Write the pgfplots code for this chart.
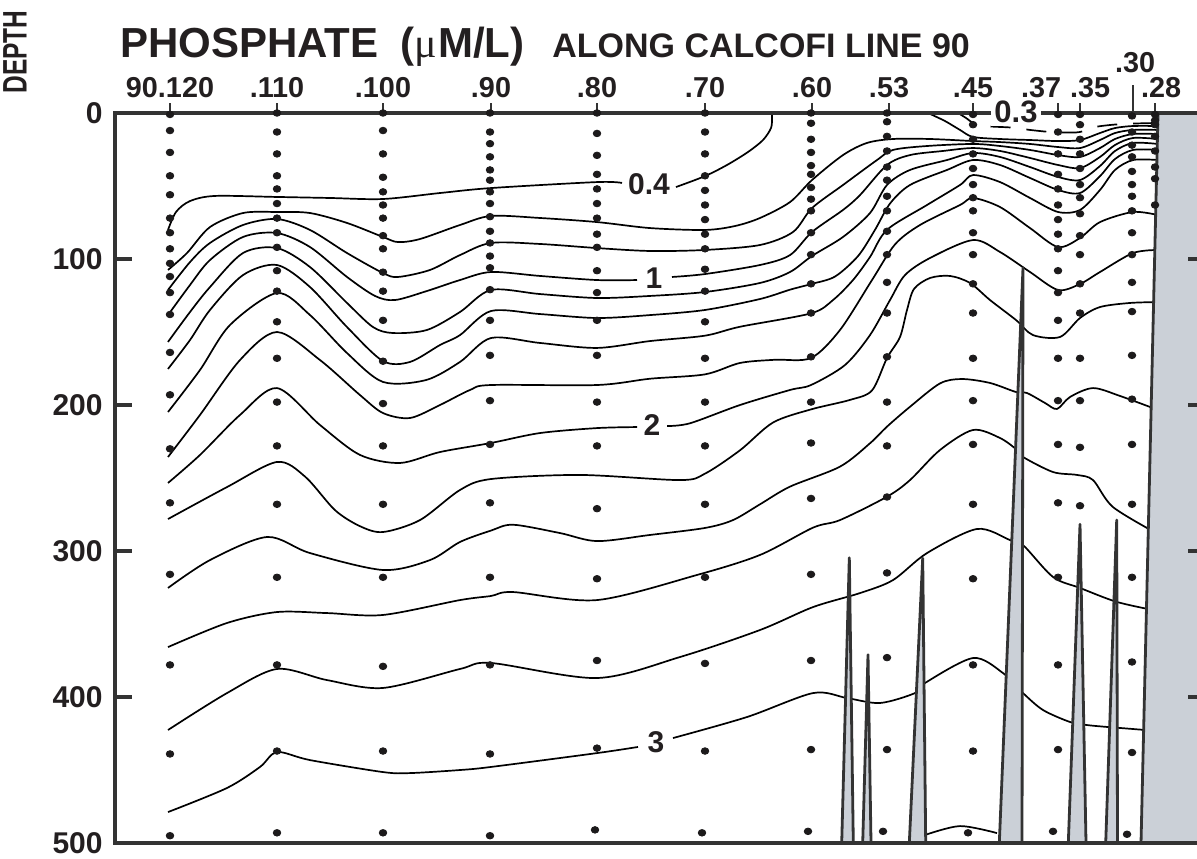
\documentclass[border=0pt]{standalone}
\usepackage{fontspec}
\setmainfont{Liberation Sans}
\newfontfamily\serifmu{Liberation Serif}
\usepackage{pgfplots}
\pgfplotsset{compat=1.18}
\definecolor{frame}{RGB}{51,51,51}
\definecolor{ink}{RGB}{35,31,32}
\definecolor{seafloor}{RGB}{203,208,215}
\definecolor{dotc}{RGB}{28,26,27}
\pgfplotsset{
  cl/.style={black, line width=0.85pt, smooth, no markers},
  dots/.style={only marks, mark=*, mark size=1.65pt, color=dotc, mark options={xscale=1.15, draw=dotc, fill=dotc}},
  spike/.style={fill=seafloor, draw=frame, line width=1.4pt, line join=round, no markers},
}
\begin{document}
\begin{tikzpicture}
\useasboundingbox (0pt,0pt) rectangle (598.5pt,429pt);
\begin{axis}[
  at={(57.5pt,7.5pt)}, anchor=south west,
  scale only axis, width=545pt, height=365pt,
  xmin=115, xmax=1205, ymin=0, ymax=500, y dir=reverse,
  clip=false, axis on top,
  axis line style={frame, line width=2pt},
  tick align=inside, major tick length=8.5pt,
  ytick={0,100,200,300,400,500},
  yticklabels={0,100,200,300,400,500},
  ytick pos=both, yticklabel pos=left,
  ytick style={frame, line width=2pt},
  yticklabel style={font=\fontsize{15}{15}\selectfont\bfseries, text=ink, anchor=east, inner sep=0pt, xshift=-6pt},
  xtick={170,277,383,491,597,705,812,889,973,1058,1080,1133,1155},
  xticklabels={90.120,.110,.100,.90,.80,.70,.60,.53,.45,{\makebox[0pt]{\hspace*{-17pt}.37}},{\makebox[0pt]{\hspace*{10pt}.35}},{\makebox[0pt]{\hspace*{2pt}\raisebox{12.5pt}{.30}}},{\makebox[0pt]{\hspace*{6pt}.28}}},
  xtick pos=right, xticklabel pos=right,
  xtick style={draw=none},
  xticklabel style={font=\fontsize{14.4}{14.4}\selectfont\bfseries, text=ink, anchor=base, inner sep=0pt, yshift=8pt},
]
% ---------------- contours ----------------
% 0.3 (dashed)
\addplot[cl, dash pattern=on 10pt off 8pt] coordinates {(958,0)(966,3.4)(975,7.5)(990,9.2)(1010,9.9)(1030,11.6)(1050,13.0)(1065,13.4)(1080,13.0)(1095,9.6)(1115,7.9)(1135,7.2)(1158,6.8)};
% 0.4
\addplot[cl] coordinates {(168,80.1)(176,67.8)(190,60.3)(215,56.8)(277,57.5)(330,58.2)(383,58.9)(440,54.8)(491,51.4)(597,47.3)(622,47.9)};
\addplot[cl] coordinates {(676,50.7)(705,43.2)(727,35.6)(748,26.7)(763,18.5)(771,10.3)(772,3.4)(772,0)};
\addplot[cl] coordinates {(928,0)(945,5.5)(960,11.6)(973,16.4)(1000,17.8)(1030,18.5)(1058,19.2)(1080,18.5)(1100,13.7)(1115,10.3)(1133,8.9)(1158,8.9)};
% 0.6
\addplot[cl] coordinates {(168,107.5)(187,95.9)(210,78.1)(243,68.5)(277,67.8)(310,68.5)(347,75.3)(383,84.9)(398,88.4)(420,86.3)(460,76.7)(491,70.5)(540,71.9)(597,74.7)(650,78.8)(705,80.1)(735,77.4)(760,71.9)(790,61.0)(812,45.9)(843,28.8)(867,20.5)(893,17.8)(930,17.8)(973,19.2)(1000,19.9)(1030,21.2)(1058,23.3)(1080,24.0)(1100,18.5)(1115,13.7)(1133,11.6)(1158,11.6)};
% 0.8
\addplot[cl] coordinates {(168,121.2)(190,102.1)(210,89.0)(243,76.7)(277,72.6)(310,80.1)(347,95.9)(383,109.6)(398,112.3)(430,107.5)(460,97.3)(491,89.0)(540,89.7)(597,92.5)(650,94.5)(705,93.8)(760,90.4)(793,81.5)(812,65.1)(843,49.3)(877,32.2)(893,25.3)(927,22.6)(973,21.2)(1000,22.6)(1030,25.3)(1058,28.8)(1080,30.1)(1100,24.0)(1115,17.8)(1133,14.4)(1158,14.4)};
% 1.0
\addplot[cl] coordinates {(168,138.4)(190,117.8)(210,100.7)(243,84.9)(277,82.2)(310,91.8)(347,112.3)(375,125.3)(395,128.1)(427,121.9)(460,114.4)(491,108.9)(540,111.6)(597,114.4)(637,114.4)};
\addplot[cl] coordinates {(672,112.3)(705,110.3)(760,104.1)(790,97.3)(812,81.5)(843,66.4)(860,56.2)(887,35.6)(910,28.8)(943,26.0)(973,24.0)(1000,26.0)(1030,30.8)(1058,35.6)(1080,37.7)(1100,30.1)(1115,21.9)(1133,17.1)(1158,17.8)};
% 1.2
\addplot[cl] coordinates {(168,156.8)(190,136.3)(210,119.2)(243,95.9)(277,92.5)(310,105.5)(347,130.1)(373,146.6)(393,150.7)(427,148.6)(460,136.3)(491,121.2)(540,124.0)(597,126.7)(650,125.3)(705,122.6)(760,116.4)(790,108.9)(812,97.9)(843,84.9)(870,68.5)(887,49.3)(910,39.0)(947,32.2)(973,27.4)(1000,30.1)(1030,37.0)(1058,43.8)(1080,45.9)(1100,36.3)(1115,26.0)(1133,20.5)(1158,21.2)};
% 1.4
\addplot[cl] coordinates {(168,175.3)(190,155.5)(210,134.9)(243,111.0)(277,104.1)(310,119.2)(347,146.6)(383,169.9)(410,170.5)(440,158.9)(460,152.1)(491,135.6)(540,137.7)(597,140.4)(650,138.4)(705,134.9)(760,127.4)(790,121.0)(812,117.0)(835,112.0)(858,98.0)(875,80.0)(890,62.0)(910,49.3)(947,39.0)(973,32.2)(1000,35.6)(1030,44.5)(1058,52.7)(1080,54.8)(1100,43.2)(1115,31.5)(1133,25.3)(1158,25.3)};
% 1.6
\addplot[cl] coordinates {(168,204.8)(200,176.0)(230,145.2)(277,123.3)(310,138.4)(347,164.4)(383,184.2)(426,182.9)(460,170.5)(491,154.1)(540,157.5)(597,160.9)(650,156.2)(705,152.5)(740,146.4)(811,137.2)(833,128.1)(853,114.4)(870,98.6)(887,80.0)(927,63.0)(960,49.3)(973,42.5)(1000,47.3)(1030,58.2)(1058,67.8)(1080,66.4)(1100,52.7)(1115,39.0)(1133,32.2)(1158,32.2)};
% 1.8
\addplot[cl] coordinates {(168,235.6)(200,206.8)(240,169.2)(277,150.0)(320,169.2)(360,193.2)(383,205.5)(410,208.9)(440,200.0)(470,189.7)(491,186.3)(597,186.3)(650,182.0)(705,179.0)(740,171.2)(775,169.0)(811,167.8)(840,148.6)(872,114.4)(895,90.0)(920,76.7)(960,63.0)(973,58.2)(1000,64.4)(1030,78.8)(1058,91.8)(1080,85.6)(1100,74.7)(1133,67.8)(1158,69.9)};
% 2.0
\addplot[cl] coordinates {(168,253.4)(200,234.2)(240,206.8)(277,188.4)(320,213.7)(360,234.2)(400,239.7)(440,232.2)(491,226.0)(540,219.2)(597,215.8)(637,215.1)};
\addplot[cl] coordinates {(667,214.4)(690,212.5)(740,200.0)(790,189.7)(811,186.3)(845,172.6)(870,152.1)(890,128.1)(905,111.0)(930,99.3)(973,87.0)(1000,95.2)(1030,108.9)(1058,121.2)(1080,117.1)(1100,108.9)(1133,95.9)(1158,93.8)};
% 2.2
\addplot[cl] coordinates {(168,278.1)(227,256.2)(277,239.0)(305,249.0)(335,272.0)(360,283.0)(383,287.0)(420,278.8)(460,258.2)(491,250.7)(580,247.9)(680,251.4)(705,247.0)(740,231.0)(773,212.0)(811,203.0)(850,196.5)(872,190.0)(887,167.8)(900,153.4)(907,134.9)(914,120.5)(930,113.0)(950,111.6)(970,116.4)(990,128.1)(1016,141.8)(1033,152.1)(1060,153.4)(1080,140.4)(1100,132.9)(1130,130.1)(1158,129.5)};
% 2.4
\addplot[cl] coordinates {(168,325.3)(210,306.2)(267,290.4)(310,301.4)(383,313.0)(430,306.2)(460,293.8)(491,286.0)(513,282.0)(560,287.7)(597,293.2)(650,289.0)(705,284.2)(733,278.8)(760,268.0)(790,255.9)(840,242.2)(870,226.2)(887,214.8)(910,201.2)(940,185.2)(962,182.2)(990,184.9)(1016,191.1)(1027,191.8)(1045,198.6)(1057,202.7)(1070,194.5)(1093,188.4)(1120,193.8)(1158,203.4)};
% 2.6
\addplot[cl] coordinates {(168,365.8)(227,349.3)(277,341.8)(327,342.5)(383,343.8)(460,333.6)(491,330.8)(513,328.1)(597,333.6)(697,316.4)(760,302.7)(813,284.0)(840,278.8)(887,262.8)(910,251.4)(940,230.8)(973,217.1)(1000,222.6)(1017,230.8)(1023,235.6)(1053,245.9)(1077,247.9)(1093,251.4)(1113,269.9)(1158,288.4)};
% 2.8
\addplot[cl] coordinates {(168,422.6)(227,397.3)(277,380.8)(327,388.4)(383,393.8)(460,380.8)(491,376.7)(597,387.0)(680,372.6)(760,354.1)(813,338.4)(860,328.8)(893,319.9)(927,301.4)(977,284.9)(1010,292.5)(1023,295.9)(1053,317.8)(1080,325.3)(1117,334.9)(1158,341.1)};
% 3.0
\addplot[cl] coordinates {(168,478.8)(227,462.3)(260,447.9)(277,437.7)(310,443.2)(383,451.4)(410,452.1)(460,450.0)(491,447.9)(597,438.4)(638,434.2)};
\addplot[cl] coordinates {(673,428.1)(747,413.7)(813,397.3)(847,400.7)(880,404.1)(915,397.3)(925,390.4)(973,373.3)(1003,383.6)(1023,397.3)(1043,408.9)(1070,417.1)(1087,419.2)(1107,420.5)(1120,421.2)(1158,423.3)};
% 3.2
\addplot[cl] coordinates {(925,494.5)(960,488.4)(997,493.2)};
% ---------------- bottom topography ----------------
\addplot[spike] coordinates {(841.7,500)(849.3,304.6)(853.3,500)} -- cycle;
\addplot[spike] coordinates {(862.7,500)(868,371)(871,500)} -- cycle;
\addplot[spike] coordinates {(909.3,500)(922.7,305)(925.7,500)} -- cycle;
\addplot[spike] coordinates {(999.3,500)(1023,106)(1022,500)} -- cycle;
\addplot[spike] coordinates {(1068.3,500)(1080,281.7)(1086,500)} -- cycle;
\addplot[spike] coordinates {(1105.7,500)(1116.7,278.8)(1117.5,500)} -- cycle;
\addplot[spike] coordinates {(1158,0)(1141,500)(1215,500)(1215,0)} -- cycle;
% ---------------- sample bottles ----------------
\addplot[dots] coordinates {(170,1)(170,12)(170,27)(170,43)(170,56)(170,72)(170,82)(170,93)(170,103)(170,112)(170,123)(170,138)(170,164)(170,193)(170,230)(170,267)(170,316)(170,378)(170,439)(170,495)};
\addplot[dots] coordinates {(277,0)(277,13)(277,28)(277,43)(277,52)(277,62)(277,72)(277,82)(277,92)(277,108)(277,122)(277,143)(277,168)(277,198)(277,228)(277,268)(277,318)(277,378)(277,437)(277,493)};
\addplot[dots] coordinates {(383,0)(383,12)(383,28)(383,44)(383,54)(383,63)(383,72)(383,84)(383,93)(383,109)(383,122)(383,142)(383,170)(383,199)(383,228)(383,268)(383,318)(383,379)(383,437)(383,493)};
\addplot[dots] coordinates {(490,0)(490,13)(490,21)(490,30)(490,39)(490,46)(490,54)(490,62)(490,71)(490,81)(490,89)(490,98)(490,106)(490,121)(490,142)(490,166)(490,197)(490,227)(490,267)(490,318)(490,378)(490,439)(490,495)};
\addplot[dots] coordinates {(597,0)(597,14)(597,29)(597,42)(597,52)(597,62)(597,72)(597,83)(597,92)(597,108)(597,123)(597,142)(597,166)(597,198)(597,228)(597,271)(597,319)(597,375)(597,435)(595,491)};
\addplot[dots] coordinates {(705,0)(705,13)(705,28)(705,43)(705,53)(705,63)(705,73)(705,83)(705,93)(705,107)(705,122)(705,143)(705,168)(705,198)(705,228)(705,268)(705,318)(705,377)(705,437)(702,493)};
\addplot[dots] coordinates {(811,0)(811,7)(811,18)(811,27)(811,36)(811,42)(811,51)(811,59)(811,67)(811,82)(811,97)(811,117)(811,137)(811,167)(811,198)(811,226)(811,264)(811,316)(811,375)(811,436)(808,492)};
\addplot[dots] coordinates {(887,0)(887,6)(887,16)(887,26)(887,37)(887,46)(887,57)(887,67)(887,81)(887,97)(887,116)(887,137)(887,167)(887,198)(887,228)(887,263)(887,315)(887,373)(887,436)(883,492)};
\addplot[dots] coordinates {(973,1)(973,8)(973,18)(973,28)(973,38)(973,49)(973,58)(973,67)(973,82)(973,97)(973,117)(973,137)(973,168)(973,197)(973,227)(973,268)(973,319)(973,378)(973,437)(968,493)};
\addplot[dots] coordinates {(1058,1)(1058,13)(1058,28)(1058,42)(1058,52)(1058,63)(1058,73)(1058,83)(1058,93)(1058,108)(1058,123)(1058,142)(1058,168)(1058,197)(1058,227)(1058,267)(1058,318)(1058,378)(1058,436)(1053,492)};
\addplot[dots] coordinates {(1080,1)(1080,8)(1080,18)(1080,28)(1080,38)(1080,49)(1080,58)(1080,69)(1080,84)(1080,97)(1080,117)(1080,137)(1080,168)(1080,197)(1080,229)(1080,269)};
\addplot[dots] coordinates {(1132,2)(1132,13)(1132,22)(1132,30)(1132,40)(1132,49)(1132,57)(1132,67)(1132,82)(1132,97)(1132,116)(1132,136)(1132,166)(1132,196)(1132,227)(1132,268)(1132,318)(1132,376)(1132,438)(1127,494)};
\addplot[dots] coordinates {(1155,1)(1155,5)(1155,8)(1155,16)(1155,26)(1155,37)(1155,45)(1155,63)};
% ---------------- station ticks & labels ----------------
\pgfplotsinvokeforeach{170,277,383,491,597,705,812,889,973,1058,1080,1155}{
  \draw[frame, line width=1.3pt] (axis cs:#1,0) -- ++(0pt,5pt);
}
\draw[frame, line width=1.3pt] (axis cs:1133,0) -- ++(0pt,14pt);
\node[font=\fontsize{15}{15}\selectfont\bfseries, text=ink, inner sep=0pt] at (axis cs:649,49) {0.4};
\node[font=\fontsize{15}{15}\selectfont\bfseries, text=ink, inner sep=0pt] at (axis cs:654,113) {1};
\node[font=\fontsize{15}{15}\selectfont\bfseries, text=ink, inner sep=0pt] at (axis cs:652,214) {2};
\node[font=\fontsize{15}{15}\selectfont\bfseries, text=ink, inner sep=0pt] at (axis cs:656,431) {3};
\coordinate (p03) at (axis cs:1016,0);
\end{axis}
\node[fill=white, inner sep=1.5pt, text=ink, font=\fontsize{15.5}{15.5}\selectfont\bfseries] at ([yshift=0.5pt]p03) {0.3};
\node[anchor=base west, inner sep=0pt, text=ink, font=\fontsize{21}{21}\selectfont\bfseries] at (60pt,400pt) {PHOSPHATE\hspace{11pt}({\serifmu\mdseries μ}\kern0.5pt M/L)};
\node[anchor=base west, inner sep=0pt, text=ink, font=\fontsize{17}{17}\selectfont\bfseries] at (276pt,400pt) {ALONG CALCOFI LINE 90};
\node[rotate=90, xscale=0.72, transform shape, inner sep=0pt, text=ink, font=\fontsize{17}{17}\selectfont\bfseries] at (7.5pt,403pt) {DEPTH};
\end{tikzpicture}
\end{document}
